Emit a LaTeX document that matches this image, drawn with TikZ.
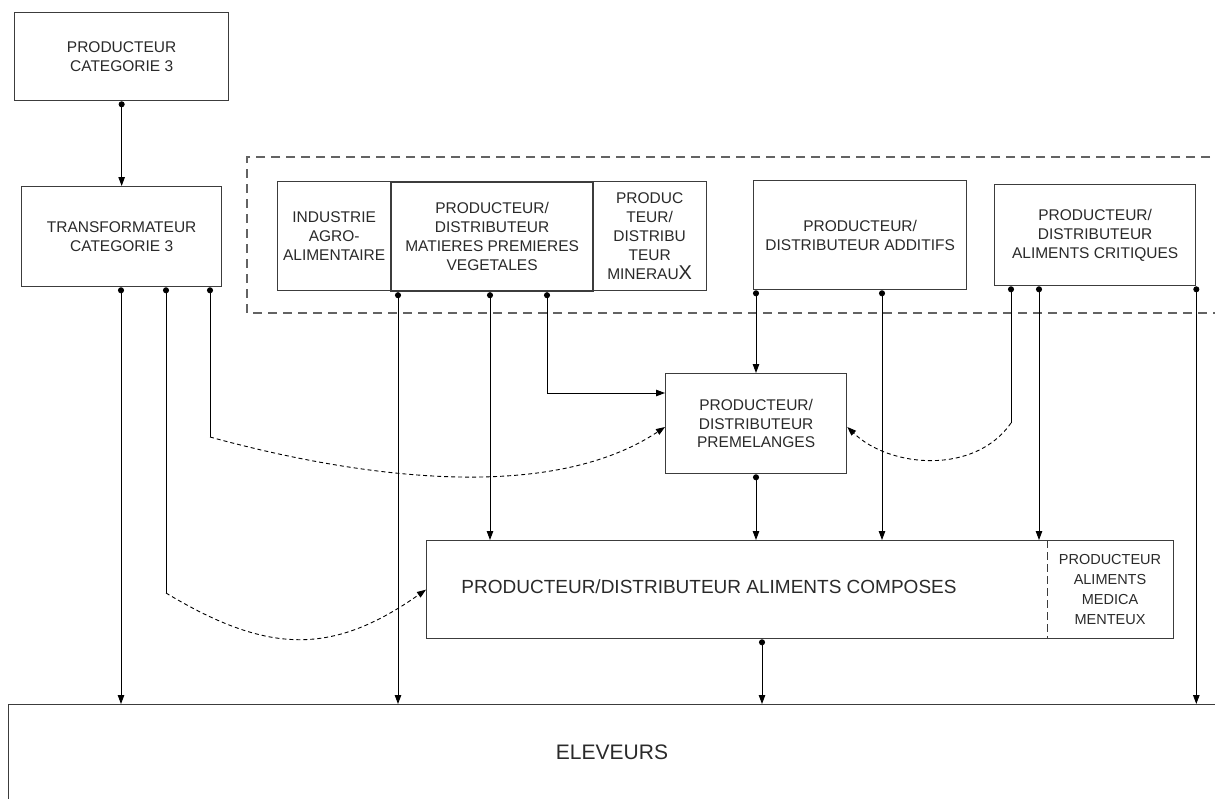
\documentclass[tikz,border=0pt]{standalone}
\usepackage{fontspec}
\setmainfont{Liberation Sans}
\usetikzlibrary{arrows.meta,calc}
\definecolor{boxc}{HTML}{3C3C3C}
\definecolor{txtc}{HTML}{2A2A2A}
\begin{document}
\begin{tikzpicture}[x=1pt,y=-1pt,
  box/.style={draw=boxc, line width=1.3pt, align=center, inner sep=0pt,
    font=\fontsize{15.5}{18.8}\selectfont, text=txtc, anchor=north west},
  conn/.style={draw=black, line width=0.9pt,
    {Circle[length=6pt]}-{Triangle[length=9pt,width=6.5pt]}},
  startseg/.style={draw=black, line width=0.9pt, {Circle[length=6pt]}-},
  dasharrow/.style={draw=black, line width=0.9pt, dash pattern=on 4pt off 3pt,
    -{Triangle[length=9pt,width=6.5pt]}},
  groupbox/.style={draw=boxc!80, line width=1.3pt, dash pattern=on 9pt off 6pt},
]
\clip (0,0) rectangle (1215,798);
\fill[white] (0,0) rectangle (1215,798);

% group frame
\draw[groupbox] (1225,157) -- (247,157) -- (247,313) -- (1225,313);

% boxes
\node[box, minimum width=214pt, minimum height=88pt] (pc3) at (14,12) {PRODUCTEUR\\CATEGORIE 3};
\node[box, minimum width=200pt, minimum height=100pt] (tc3) at (21,186) {TRANSFORMATEUR\\CATEGORIE 3};
\node[box, minimum width=113pt, minimum height=109pt] (ind) at (277,181) {INDUSTRIE\\AGRO-\\ALIMENTAIRE};
\node[box, minimum width=114pt, minimum height=109pt] (min) at (592,181) {PRODUC\\TEUR/\\DISTRIBU\\TEUR\\MINERAU{\fontsize{20}{20}\selectfont X}};
\node[box, line width=2.2pt, minimum width=202pt, minimum height=109pt] (mat) at (390,181) {PRODUCTEUR/\\DISTRIBUTEUR\\MATIERES PREMIERES\\VEGETALES};
\node[box, minimum width=213pt, minimum height=109pt] (add) at (753,180) {PRODUCTEUR/\\DISTRIBUTEUR ADDITIFS};
\node[box, minimum width=201pt, minimum height=101pt] (crit) at (994,184) {PRODUCTEUR/\\DISTRIBUTEUR\\ALIMENTS CRITIQUES};
\node[box, minimum width=181pt, minimum height=100pt] (prem) at (665,373) {PRODUCTEUR/\\DISTRIBUTEUR\\PREMELANGES};
\node[box, minimum width=747pt, minimum height=98pt] (comp) at (426,540) {};
\node[font=\fontsize{19}{22}\selectfont, text=txtc, anchor=center] (compt) at (709,587) {PRODUCTEUR/DISTRIBUTEUR ALIMENTS COMPOSES};
\node[font=\fontsize{14.5}{20}\selectfont, text=txtc, align=center, inner sep=0pt] (medic) at (1110,589) {PRODUCTEUR\\ALIMENTS\\MEDICA\\MENTEUX};
\draw[draw=boxc, line width=0.9pt, dash pattern=on 8pt off 4pt] (1047,0 |- comp.north) -- (1047,0 |- comp.south);
\node[box, minimum width=1212pt, minimum height=120pt] (elev) at (8,704) {};
\node[font=\fontsize{21}{24}\selectfont, text=txtc] (elevt) at (612,752) {ELEVEURS};

% bend points
\coordinate (bA) at (210,437);
\coordinate (bB) at (166,593);
\coordinate (bC) at (1011,423);

% connectors
\draw[conn] (pc3.south) -- (pc3.south |- tc3.north);
\draw[conn] (121,0 |- tc3.south) -- (121,0 |- elev.north);
\draw[conn] (398,0 |- mat.south) -- (398,0 |- elev.north);
\draw[conn] (490,0 |- mat.south) -- (490,0 |- comp.north);
\draw[conn] (547,0 |- mat.south) |- ($(prem.north west)+(0,20)$);
\draw[conn] (756,0 |- add.south) -- (756,0 |- prem.north);
\draw[conn] (882,0 |- add.south) -- (882,0 |- comp.north);
\draw[conn] (756,0 |- prem.south) -- (756,0 |- comp.north);
\draw[conn] (1039,0 |- crit.south) -- (1039,0 |- comp.north);
\draw[conn] (crit.south east) -- (crit.south east |- elev.north);
\draw[conn] (762,0 |- comp.south) -- (762,0 |- elev.north);

% dashed curved connectors
\draw[startseg] (210,0 |- tc3.south) -- (bA);
\draw[dasharrow] (bA) .. controls (330,470) and (540,510) .. ($(prem.north west)+(0,54)$);
\draw[startseg] (166,0 |- tc3.south) -- (bB);
\draw[dasharrow] (bB) .. controls (269,655) and (333,655) .. (comp.west);
\draw[startseg] (1011,0 |- crit.south) -- (bC);
\draw[dasharrow] (bC) .. controls (975,475) and (890,468) .. ($(prem.north east)+(0,54)$);
\end{tikzpicture}
\end{document}
